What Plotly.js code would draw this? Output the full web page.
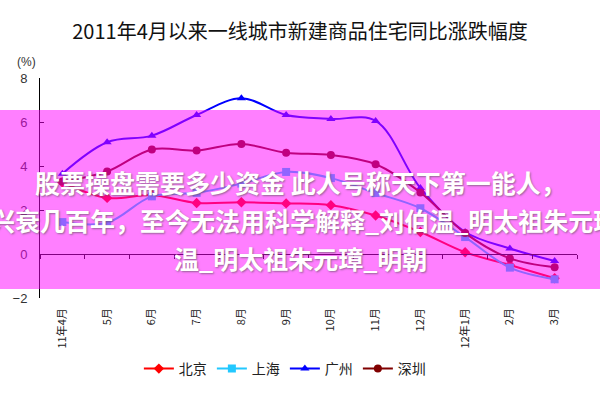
<!DOCTYPE html>
<html>
<head>
<meta charset="utf-8">
<script src="https://cdn.plot.ly/plotly-3.0.1.min.js"></script>
<style>html,body{margin:0;padding:0;background:#fff;}#chart{width:600px;height:400px;}</style>
</head>
<body>
<div id="chart"></div>
<script>
// ---- data ----
var months = ["11年4月","5月","6月","7月","8月","9月","10月","11月","12月","12年1月","2月","3月"];
var beijing   = [3.25, 2.55, 2.68, 2.32, 2.35, 2.30, 2.22, 1.75, 1.00, 0.08, -0.50, -1.10];
var shanghai  = [1.45, 1.42, 2.62, 2.78, 3.20, 3.73, 3.45, 2.77, 2.08, 0.77, -0.62, -1.15];
var guangzhou = [3.65, 5.08, 5.38, 6.32, 7.08, 6.32, 6.14, 6.05, 3.00, 1.00, 0.25, -0.32];
var shenzhen  = [3.30, 3.75, 4.75, 4.70, 5.00, 4.60, 4.50, 4.08, 2.80, 0.95, -0.20, -0.60];
var seriesNames = ["北京","上海","广州","深圳"];
var titleText = "2011年4月以来一线城市新建商品住宅同比涨跌幅度";
var unitText = "(%)";
var bannerLines = [
  "股票操盘需要多少资金 此人号称天下第一能人，",
  "兴衰几百年，至今无法用科学解释_刘伯温_明太祖朱元璋",
  "温_明太祖朱元璋_明朝"
];

// ---- chart ----
var cjk = "Noto Sans CJK SC, sans-serif";
function line(name, y, color, symbol) {
  return {
    type: "scatter", mode: "lines+markers", name: name, x: months, y: y,
    line: {color: color, width: 2, shape: "spline", smoothing: 1},
    marker: {color: color, symbol: symbol, size: 8, line: {width: 0}},
    hoverinfo: "x+y+name"
  };
}
var traces = [
  line(seriesNames[0], beijing, "#ff0000", "diamond"),
  line(seriesNames[1], shanghai, "#22c8ff", "square"),
  line(seriesNames[2], guangzhou, "#0000ff", "triangle-up"),
  line(seriesNames[3], shenzhen, "#800000", "circle"),
  {type: "scatter", mode: "markers", x: months, y: months.map(function(){return null;}),
   xaxis: "x2", showlegend: false, hoverinfo: "skip", marker: {opacity: 0}}
];

var bannerFont = {family: cjk, size: 25, color: "#ffffff", weight: "bold",
                  shadow: "1px 1px 2px rgba(80,80,80,0.6)"};

var layout = {
  width: 600, height: 400,
  margin: {l: 40, r: 23, t: 78, b: 102},
  paper_bgcolor: "#ffffff", plot_bgcolor: "#ffffff",
  font: {family: cjk, color: "#222"},
  title: {text: titleText, x: 0.5, xanchor: "center", xref: "container",
          y: 0.92, yanchor: "middle", yref: "container",
          font: {family: cjk, size: 20, color: "#111"}},
  xaxis: {type: "category", categoryorder: "array", categoryarray: months,
          range: [-0.5, 11.5], showline: false, showgrid: false, zeroline: false,
          ticks: "", tickangle: -90, ticklabelstandoff: 7,
          tickfont: {family: cjk, size: 11, color: "#222"}, fixedrange: true},
  xaxis2: {type: "category", categoryorder: "array", categoryarray: months,
           overlaying: "x", anchor: "free", position: 0.2, range: [-0.5, 11.5],
           showline: true, linecolor: "#000", linewidth: 1, showgrid: false, zeroline: false,
           ticks: "outside", tickson: "boundaries", ticklen: 4, tickcolor: "#000",
           showticklabels: false, fixedrange: true},
  yaxis: {range: [-2, 8], dtick: 2, tick0: 0, showgrid: false, zeroline: false,
          showline: true, linecolor: "#000", linewidth: 1,
          ticks: "inside", ticklen: 4, tickcolor: "#000", ticklabelstandoff: 9,
          tickfont: {family: "Liberation Sans, Arial, sans-serif", size: 13, color: "#333"},
          fixedrange: true},
  legend: {orientation: "h", x: 0.456, xanchor: "center", y: -0.3227, yanchor: "middle",
           font: {family: cjk, size: 14, color: "#222"}, itemwidth: 30, tracegroupgap: 0,
           bgcolor: "rgba(0,0,0,0)"},
  showlegend: true,
  shapes: [{type: "rect", xref: "paper", yref: "paper", layer: "above",
            x0: -0.0745, x1: 1.043, y0: 0.041, y1: 0.8545,
            fillcolor: "rgba(255,0,255,0.5)", line: {width: 0}}],
  annotations: [
    {text: unitText, xref: "paper", yref: "paper", x: -0.026, y: 1.0727,
     xanchor: "center", yanchor: "middle", showarrow: false,
     font: {family: "Liberation Sans, Arial, sans-serif", size: 12, color: "#333"}},
    {text: bannerLines[0], xref: "paper", yref: "paper", x: 0.4842, y: 0.527,
     xanchor: "center", yanchor: "middle", showarrow: false, font: bannerFont},
    {text: bannerLines[1], xref: "paper", yref: "paper", x: -0.096, y: 0.3545,
     xanchor: "left", yanchor: "middle", showarrow: false, font: bannerFont},
    {text: bannerLines[2], xref: "paper", yref: "paper", x: 0.2458, y: 0.1818,
     xanchor: "left", yanchor: "middle", showarrow: false, font: bannerFont}
  ]
};

Plotly.newPlot("chart", traces, layout, {displayModeBar: false, staticPlot: true});
</script>
</body>
</html>
